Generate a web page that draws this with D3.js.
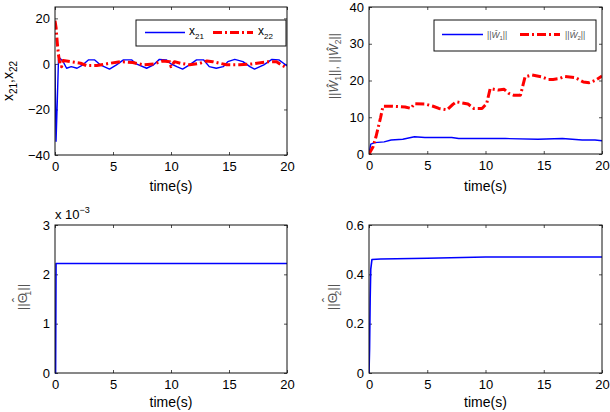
<!DOCTYPE html>
<html>
<head>
<meta charset="utf-8">
<script src="https://cdn.jsdelivr.net/npm/d3@7"></script>
<style>
  html, body { margin: 0; padding: 0; background: #fff; }
  svg { display: block; }
  text { font-family: "Liberation Sans", Arial, Helvetica, sans-serif; font-weight: normal; }
</style>
</head>
<body>
<svg id="chart" width="610" height="412"></svg>
<script>
// ---------------- DATA ----------------
const timeTicks = [0, 5, 10, 15, 20];
const ticksX2 = [-40, -20, 0, 20];
const ticksW = [0, 10, 20, 30, 40];
const ticksTheta1 = [0, 0.001, 0.002, 0.003];
const ticksTheta2 = [0, 0.2, 0.4, 0.6];

// x21 (blue) [time, value]
const x21 = [
  [0, 0], [0.09, -34], [0.2, -16], [0.3, 1.8], [0.43, 2.5], [0.7, 1], [1.0, -1.9], [1.4, -1.2],
  [1.9, -1.9], [2.4, -0.4], [2.9, 1.8], [3.4, 1.8], [3.9, -0.4], [4.7, -2.3], [5.3, -0.4],
  [5.9, 1.8], [6.6, 1.8], [7.0, 0], [7.9, -1.9], [8.5, -0.4], [9.0, 2], [9.6, 1.8], [10.0, 0],
  [10.5, -1.2], [11.0, -2.3], [11.6, -0.4], [12.2, 1.8], [12.8, 1.8], [13.3, -1.2], [13.9, -1.9],
  [14.5, -1.2], [14.9, 1], [15.5, 2], [16.2, 1], [16.8, -1.2], [17.2, -2.3], [18.0, -0.4],
  [18.7, 2], [19.3, 1.8], [19.7, 0.3], [20, -0.9]
];
// x22 (red, dash-dot)
const x22 = [
  [0, 19], [0.09, 16], [0.2, 9], [0.3, 4], [0.43, -0.4], [0.57, -1.2], [0.7, 1.5], [1.3, 1],
  [2.2, 0.3], [2.7, -0.7], [3.6, -0.7], [4.4, 0], [5.6, 1], [6.7, 0.6], [7.6, -0.4], [8.5, 0],
  [9.3, 1.3], [9.9, 1], [10.0, -1.2], [10.3, 1], [10.8, 0.3], [11.6, -0.4], [12.5, 0.3],
  [13.1, 1.3], [13.6, 1], [14.8, -0.4], [15.9, -0.4], [17.0, 0], [18.2, 0.9], [19.1, 1],
  [19.5, -0.4], [19.8, -1.2], [20, -0.7]
];
// ||W1|| (blue)
const w1Norm = [
  [0, 0], [0.15, 2.7], [0.5, 3.1], [1.3, 3.3], [1.9, 3.8], [2.9, 4.0], [3.9, 4.7], [4.8, 4.5],
  [7.1, 4.5], [7.7, 4.2], [11.7, 4.2], [14.5, 4.0], [16.6, 4.2], [18.3, 3.8], [19.4, 3.8], [20, 3.6]
];
// ||W2|| (red, dash-dot)
const w2Norm = [
  [0, 0], [0.35, 2], [0.6, 4.7], [1.0, 10], [1.2, 13], [1.9, 13], [3.1, 12.8], [3.6, 12.4],
  [3.9, 13.7], [4.8, 13.6], [5.5, 13], [6.0, 12.4], [6.7, 12], [7.2, 13.5], [7.5, 14.2],
  [8.5, 13.6], [9.0, 12.4], [9.7, 12.4], [10.1, 13.7], [10.4, 17.8], [11.1, 17.4], [11.6, 17.6],
  [12.0, 16.5], [12.4, 16], [13.0, 16], [13.4, 21], [14.0, 21.5], [14.8, 21], [15.4, 20.3],
  [15.8, 20.3], [16.3, 20.5], [16.8, 21.1], [17.7, 20.8], [18.4, 19.6], [18.9, 19.4],
  [19.4, 20], [20, 21.2]
];
// ||Theta1||
const theta1Norm = [[0, 0], [0.05, 0], [0.09, 0.00222], [20, 0.00222]];
// ||Theta2||
const theta2Norm = [
  [0, 0], [0.05, 0.1], [0.1, 0.3], [0.15, 0.42], [0.25, 0.46], [1, 0.462], [5, 0.465],
  [10, 0.47], [15, 0.47], [20, 0.47]
];

// ---------------- DRAWING ----------------
const svg = d3.select("#chart");
const BLUE = "#0000ff", RED = "#ff0000", GRAY = "#555";
const DASH = "9,3,2,3";
const SANS = '"Liberation Sans", Arial, sans-serif';
const SERIF = '"DejaVu Serif", "Liberation Serif", serif';

function makePanel(cfg) {
  const x = d3.scaleLinear().domain([0, 20]).range([cfg.left, cfg.right]);
  const y = d3.scaleLinear().domain(cfg.yDomain).range([cfg.bottom, cfg.top]);
  const g = svg.append("g");
  const clipId = "clip" + cfg.id;
  svg.append("clipPath").attr("id", clipId).append("rect")
    .attr("x", cfg.left).attr("y", cfg.top - 1)
    .attr("width", cfg.right - cfg.left).attr("height", cfg.bottom - cfg.top + 2);

  const yfmt = cfg.yFormat || (d => d3.format("")(d).replace("-", "\u2212"));

  const ax = [
    g.append("g").attr("transform", `translate(0,${cfg.bottom})`)
      .call(d3.axisBottom(x).tickValues(timeTicks).tickSizeInner(-3).tickSizeOuter(0).tickPadding(7)),
    g.append("g").attr("transform", `translate(0,${cfg.top})`)
      .call(d3.axisTop(x).tickValues(timeTicks).tickSizeInner(-3).tickSizeOuter(0).tickFormat("")),
    g.append("g").attr("transform", `translate(${cfg.left},0)`)
      .call(d3.axisLeft(y).tickValues(cfg.yTicks).tickSizeInner(-3).tickSizeOuter(0).tickPadding(5).tickFormat(yfmt)),
    g.append("g").attr("transform", `translate(${cfg.right},0)`)
      .call(d3.axisRight(y).tickValues(cfg.yTicks).tickSizeInner(-3).tickSizeOuter(0).tickFormat(""))
  ];
  ax.forEach(a => {
    a.attr("font-family", SANS).attr("font-size", 13);
    a.select(".domain").remove();
    a.selectAll("line").attr("stroke", "#222").attr("stroke-width", 0.8);
    a.selectAll("text").attr("fill", "#000");
  });

  const line = d3.line().x(d => x(d[0])).y(d => y(d[1]));
  const plot = g.append("g").attr("clip-path", `url(#${clipId})`);
  cfg.series.forEach(s => {
    plot.append("path").datum(s.data).attr("d", line)
      .attr("fill", "none").attr("stroke", s.color)
      .attr("stroke-width", s.width).attr("stroke-dasharray", s.dash || null)
      .attr("stroke-linejoin", "round");
  });

  g.append("rect").attr("x", cfg.left).attr("y", cfg.top)
    .attr("width", cfg.right - cfg.left).attr("height", cfg.bottom - cfg.top)
    .attr("fill", "none").attr("stroke", "#111").attr("stroke-width", 1);

  g.append("text").attr("x", (cfg.left + cfg.right) / 2).attr("y", cfg.xLabelY)
    .attr("text-anchor", "middle").attr("font-size", 14).attr("fill", "#000")
    .attr("font-family", SANS).attr("font-weight", "normal")
    .text("time(s)");
  return { x, y, g };
}

// rich text helper: parts = [{t, sub, sup, italic}]
function richText(sel, parts, base, subSize, opts = {}) {
  let shift = 0;
  parts.forEach(p => {
    const ts = sel.append("tspan").text(p.t);
    let target = 0;
    if (p.sub) target = opts.subShift || base * 0.3;
    if (p.sup) target = -(opts.supShift || base * 0.4);
    if (target !== shift) { ts.attr("dy", target - shift); shift = target; }
    ts.attr("font-size", (p.sub || p.sup) ? subSize : base);
    if (p.italic) ts.attr("font-style", "italic");
  });
}

// --- Top-left ---
makePanel({
  id: 1, left: 55, right: 287, top: 7, bottom: 155, yDomain: [-40, 25], yTicks: ticksX2,
  xLabelY: 191,
  series: [
    { data: x21, color: BLUE, width: 1.4 },
    { data: x22, color: RED, width: 3, dash: DASH }
  ]
});
// --- Top-right ---
makePanel({
  id: 2, left: 369, right: 602, top: 7, bottom: 154, yDomain: [0, 40], yTicks: ticksW,
  xLabelY: 191,
  series: [
    { data: w1Norm, color: BLUE, width: 1.4 },
    { data: w2Norm, color: RED, width: 3, dash: DASH }
  ]
});
// --- Bottom-left ---
makePanel({
  id: 3, left: 55, right: 287, top: 225, bottom: 373, yDomain: [0, 0.003], yTicks: ticksTheta1,
  yFormat: d => String(Math.round(d * 1000)),
  xLabelY: 407,
  series: [{ data: theta1Norm, color: BLUE, width: 1.6 }]
});
// --- Bottom-right ---
makePanel({
  id: 4, left: 369, right: 602, top: 225, bottom: 373, yDomain: [0, 0.6], yTicks: ticksTheta2,
  yFormat: d => d === 0 ? "0" : d3.format(".1f")(d),
  xLabelY: 407,
  series: [{ data: theta2Norm, color: BLUE, width: 1.6 }]
});

// exponent label
const expT = svg.append("text").attr("x", 55).attr("y", 219).attr("fill", "#000").attr("font-family", SANS);
richText(expT, [{ t: "x 10" }, { t: "\u22123", sup: true }], 13, 9, { supShift: 6 });

// ---- Y labels ----
const yl1 = svg.append("text").attr("transform", "translate(13,81) rotate(-90)")
  .attr("text-anchor", "middle").attr("fill", "#000").attr("font-family", SANS);
richText(yl1, [{ t: "x" }, { t: "21", sub: true }, { t: ",x" }, { t: "22", sub: true }], 14, 10, { subShift: 4 });

const yl2 = svg.append("text").attr("transform", "translate(338,66) rotate(-90)")
  .attr("text-anchor", "middle").attr("fill", GRAY).attr("font-family", SERIF);
richText(yl2, [{ t: "||" }, { t: "\u0174", italic: true }, { t: "1", sub: true }, { t: "||, ||" },
  { t: "\u0174", italic: true }, { t: "2", sub: true }, { t: "||" }], 12.5, 8.5, { subShift: 3 });

// Theta with hat: draw Θ, then a circumflex shifted back over it
function thetaLabel(tx, ty, idx) {
  const t = svg.append("text").attr("transform", `translate(${tx},${ty}) rotate(-90)`)
    .attr("text-anchor", "middle").attr("fill", GRAY).attr("font-family", SERIF).attr("font-size", 13.5);
  t.append("tspan").text("||\u0398");
  t.append("tspan").text("\u02C6").attr("dx", -9.3).attr("dy", -5);
  t.append("tspan").text(idx).attr("font-size", 9).attr("dx", 2).attr("dy", 8.5);
  t.append("tspan").text("||").attr("dy", -3.5);
}
thetaLabel(27, 297, "1");
thetaLabel(337, 297, "2");

// ---- Legends ----
function legendBox(x0, y0, w, h) {
  svg.append("rect").attr("x", x0).attr("y", y0).attr("width", w).attr("height", h)
    .attr("fill", "#fff").attr("stroke", "#111").attr("stroke-width", 1);
}
// top-left legend
legendBox(136, 20, 150, 26);
svg.append("line").attr("x1", 145).attr("x2", 185).attr("y1", 32.5).attr("y2", 32.5)
  .attr("stroke", BLUE).attr("stroke-width", 1.4);
svg.append("line").attr("x1", 213).attr("x2", 253).attr("y1", 32.5).attr("y2", 32.5)
  .attr("stroke", RED).attr("stroke-width", 3).attr("stroke-dasharray", DASH);
const lt1 = svg.append("text").attr("x", 189).attr("y", 35).attr("fill", "#000").attr("font-family", SANS);
richText(lt1, [{ t: "x" }, { t: "21", sub: true }], 12, 8, { subShift: 4 });
const lt2 = svg.append("text").attr("x", 258).attr("y", 35).attr("fill", "#000").attr("font-family", SANS);
richText(lt2, [{ t: "x" }, { t: "22", sub: true }], 12, 8, { subShift: 4 });

// top-right legend
legendBox(434, 20, 162, 31);
svg.append("line").attr("x1", 442).attr("x2", 483).attr("y1", 34.5).attr("y2", 34.5)
  .attr("stroke", BLUE).attr("stroke-width", 1.4);
svg.append("line").attr("x1", 520).attr("x2", 560).attr("y1", 34.5).attr("y2", 34.5)
  .attr("stroke", RED).attr("stroke-width", 3).attr("stroke-dasharray", DASH);
const lt3 = svg.append("text").attr("x", 487).attr("y", 37.5).attr("fill", GRAY).attr("font-family", SERIF);
richText(lt3, [{ t: "||" }, { t: "\u0174", italic: true }, { t: "1", sub: true }, { t: "||" }], 8.5, 6, { subShift: 2 });
const lt4 = svg.append("text").attr("x", 565).attr("y", 37.5).attr("fill", GRAY).attr("font-family", SERIF);
richText(lt4, [{ t: "||" }, { t: "\u0174", italic: true }, { t: "2", sub: true }, { t: "||" }], 8.5, 6, { subShift: 2 });
</script>
</body>
</html>
